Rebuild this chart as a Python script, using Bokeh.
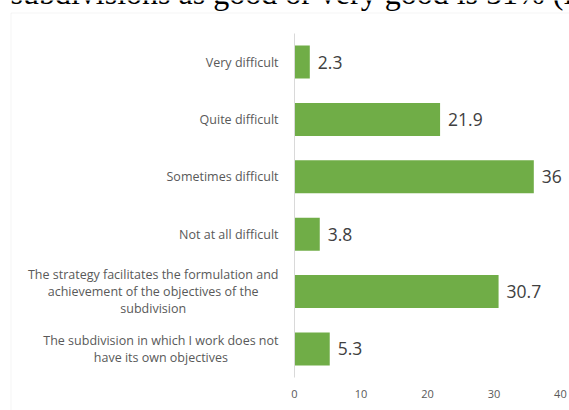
from bokeh.plotting import figure
from bokeh.models import (FactorRange, Range1d, FixedTicker, Label, BoxAnnotation,
                          LinearAxis, CategoricalAxis, ColumnDataSource)
from bokeh.embed import file_html
from bokeh.resources import INLINE
from bokeh.core.properties import value

# ---- data ----
categories = [
    "Very difficult",
    "Quite difficult",
    "Sometimes difficult",
    "Not at all difficult",
    "The strategy facilitates the formulation and achievement of the objectives of the subdivision",
    "The subdivision in which I work does not have its own objectives",
]
category_labels = [
    "Very difficult",
    "Quite difficult",
    "Sometimes difficult",
    "Not at all difficult",
    "The strategy facilitates the formulation and\nachievement of the objectives of the\nsubdivision",
    "The subdivision in which I work does not\nhave its own objectives",
]
values = [2.3, 21.9, 36, 3.8, 30.7, 5.3]
value_labels = ["2.3", "21.9", "36", "3.8", "30.7", "5.3"]
x_ticks = [0, 10, 20, 30, 40]
header_text = "subdivisions as good or very good is 51% (I"

src = ColumnDataSource(dict(cat=categories, clab=category_labels, val=values, vlab=value_labels))

p = figure(width=569, height=410,
           x_range=Range1d(-44.23, 41.37),
           y_range=FactorRange(factors=categories[::-1], range_padding=0.574,
                               range_padding_units="absolute"),
           output_backend="svg", toolbar_location=None, min_border=0,
           x_axis_location=None, y_axis_location=None)
p.outline_line_color = None
p.background_fill_color = "white"
p.border_fill_color = "white"
p.xgrid.visible = False
p.ygrid.visible = False

# frame border
p.add_layout(BoxAnnotation(left=10.5, right=2000, top=397.5, bottom=-2000,
                           left_units="screen", right_units="screen",
                           top_units="screen", bottom_units="screen",
                           fill_color=None, line_color="#d9d9d9", line_width=1))

# header text (cut off at the top)
p.add_layout(Label(x=10, y=418, x_units="screen", y_units="screen", text=header_text,
                   text_font="Liberation Serif", text_font_size="32px",
                   text_color="black", text_baseline="alphabetic"))

# axes
xaxis = LinearAxis(ticker=FixedTicker(ticks=x_ticks), fixed_location=-0.016,
                   axis_line_color=None, major_tick_line_color=None,
                   minor_tick_line_color=None, major_label_standoff=6,
                   major_label_text_font="Open Sans", major_label_text_font_size="11px",
                   major_label_text_color="#595959")
p.add_layout(xaxis, "below")

yaxis = CategoricalAxis(fixed_location=0, bounds=(0, 6), axis_line_color="#d9d9d9",
                        major_tick_line_color=None, minor_tick_line_color=None,
                        major_label_text_color=None)
p.add_layout(yaxis, "left")

# bars
p.hbar(y="cat", left=0, right="val", height=0.575, source=src,
       fill_color="#70AD47", line_color=None)

# value labels
p.text(x="val", y="cat", text="vlab", source=src, x_offset=8,
       text_align="left", text_baseline="middle",
       text_font=value("Open Sans"), text_font_size="17.5px", text_color="#404040")

# category labels
p.text(x=0, y="cat", text="clab", source=src, x_offset=-16,
       anchor="center_right", text_align="center", text_baseline="middle",
       text_line_height=0.98,
       text_font=value("Open Sans"), text_font_size="12.5px", text_color="#595959")

open("out.html", "w").write(file_html(p, INLINE))
